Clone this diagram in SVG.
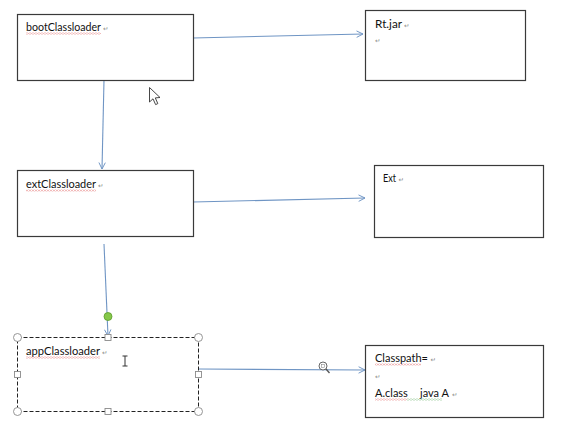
<svg xmlns="http://www.w3.org/2000/svg" width="564" height="430" viewBox="0 0 564 430">
<style>
.box{fill:#fff;stroke:#3a3a3a;stroke-width:1.2}
.lbl{font-family:Lato,"Liberation Sans",sans-serif;font-size:11px;fill:#111}
.pm{font-family:"DejaVu Sans",sans-serif;font-size:6.5px;fill:#8a8a8a}
.con{stroke:#6f95c4;stroke-width:1.1;fill:none}
.h{fill:#fff;stroke:#8a8a8a;stroke-width:0.9}
</style>
<defs>
<marker id="arr" viewBox="0 0 10 10" refX="9" refY="5" markerWidth="8" markerHeight="8" orient="auto" markerUnits="userSpaceOnUse">
<path d="M1,1 L9,5 L1,9" fill="none" stroke="#6f95c4" stroke-width="1.2"/>
</marker>
<pattern id="wr" width="3" height="2" patternUnits="userSpaceOnUse">
<path d="M0,0.3 L1.5,1.7 L3,0.3" fill="none" stroke="#e06060" stroke-width="0.6"/>
</pattern>
<pattern id="wg" width="3" height="2" patternUnits="userSpaceOnUse">
<path d="M0,0.3 L1.5,1.7 L3,0.3" fill="none" stroke="#5fae5f" stroke-width="0.6"/>
</pattern>
</defs>
<rect width="564" height="430" fill="#fff"/>

<g id="connectors">
<path class="con" d="M193,38 L363,34" marker-end="url(#arr)"/>
<path class="con" d="M104,80 L102,169" marker-end="url(#arr)"/>
<path class="con" d="M193,202 L365,198" marker-end="url(#arr)"/>
<path class="con" d="M104,244 L108,336" marker-end="url(#arr)"/>
<path class="con" d="M199,369 L365,370" marker-end="url(#arr)"/>
</g>

<g id="bootClassloader">
<rect class="box" x="17.5" y="14.5" width="176" height="66"/>
<text class="lbl" x="26" y="31" textLength="75" lengthAdjust="spacingAndGlyphs">bootClassloader</text>
<text class="pm" x="103" y="31">↵</text>
<rect x="26" y="32.5" width="75" height="2" fill="url(#wr)"/>
</g>

<g id="rtjar">
<rect class="box" x="365.5" y="10.5" width="160" height="70"/>
<text class="lbl" x="375" y="28" textLength="27" lengthAdjust="spacingAndGlyphs">Rt.jar</text>
<text class="pm" x="404" y="28">↵</text>
<text class="pm" x="375" y="43">↵</text>
</g>

<g id="extClassloader">
<rect class="box" x="17.5" y="170.5" width="176" height="66"/>
<text class="lbl" x="26" y="188" textLength="70" lengthAdjust="spacingAndGlyphs">extClassloader</text>
<text class="pm" x="98" y="188">↵</text>
<rect x="26" y="189.5" width="70" height="2" fill="url(#wr)"/>
</g>

<g id="ext">
<rect class="box" x="374.5" y="165.5" width="169" height="72"/>
<text class="lbl" x="383" y="182" textLength="13" lengthAdjust="spacingAndGlyphs">Ext</text>
<text class="pm" x="398.5" y="182">↵</text>
</g>

<g id="appClassloader">
<rect x="17.5" y="337.5" width="181" height="74" fill="#fff" stroke="#222" stroke-width="1" stroke-dasharray="4,2"/>
<text class="lbl" x="26" y="355" textLength="74" lengthAdjust="spacingAndGlyphs">appClassloader</text>
<text class="pm" x="102" y="355">↵</text>
<rect x="26" y="356.5" width="74" height="2" fill="url(#wr)"/>
<circle class="h" cx="17.5" cy="337.5" r="4"/>
<circle class="h" cx="198.5" cy="337.5" r="4"/>
<circle class="h" cx="17.5" cy="411.5" r="4"/>
<circle class="h" cx="198.5" cy="411.5" r="4"/>
<rect class="h" x="105" y="334.5" width="6" height="6"/>
<rect class="h" x="105" y="408.5" width="6" height="6"/>
<rect class="h" x="14.5" y="371.5" width="6" height="6"/>
<rect class="h" x="195.5" y="371.5" width="6" height="6"/>
<circle cx="108" cy="316.5" r="4" fill="#86c84a" stroke="#5c9a2c" stroke-width="0.8"/>
</g>

<g id="classpath">
<rect class="box" x="365.5" y="345.5" width="178" height="72"/>
<text class="lbl" x="375" y="362" textLength="53" lengthAdjust="spacingAndGlyphs">Classpath=</text>
<text class="pm" x="430.5" y="362">↵</text>
<rect x="375" y="363.5" width="46" height="2" fill="url(#wr)"/>
<text class="pm" x="375" y="379">↵</text>
<text class="lbl" x="375" y="397">A.class</text>
<text class="lbl" x="420" y="397">java A</text>
<text class="pm" x="452" y="397">↵</text>
<rect x="375" y="398.5" width="32" height="2" fill="url(#wr)"/>
<rect x="407" y="398.5" width="35" height="2" fill="url(#wg)"/>
</g>

<g id="cursors">
<path d="M149.5,87.5 L149.5,102 L153,98.8 L155.6,104.6 L157.8,103.6 L155.3,97.9 L160,97.5 Z" fill="#fff" stroke="#333" stroke-width="0.9" stroke-linejoin="round"/>
<path d="M122.5,356 L127.5,356 M125,356 L125,366 M122.5,366 L127.5,366" stroke="#333" stroke-width="1" fill="none"/>
<circle cx="323" cy="366" r="4" fill="#fff" stroke="#555" stroke-width="0.9"/>
<rect x="321.5" y="364.5" width="3" height="3" fill="none" stroke="#777" stroke-width="0.5"/>
<path d="M326,369 L329.5,373" stroke="#555" stroke-width="1.4"/>
</g>
</svg>
